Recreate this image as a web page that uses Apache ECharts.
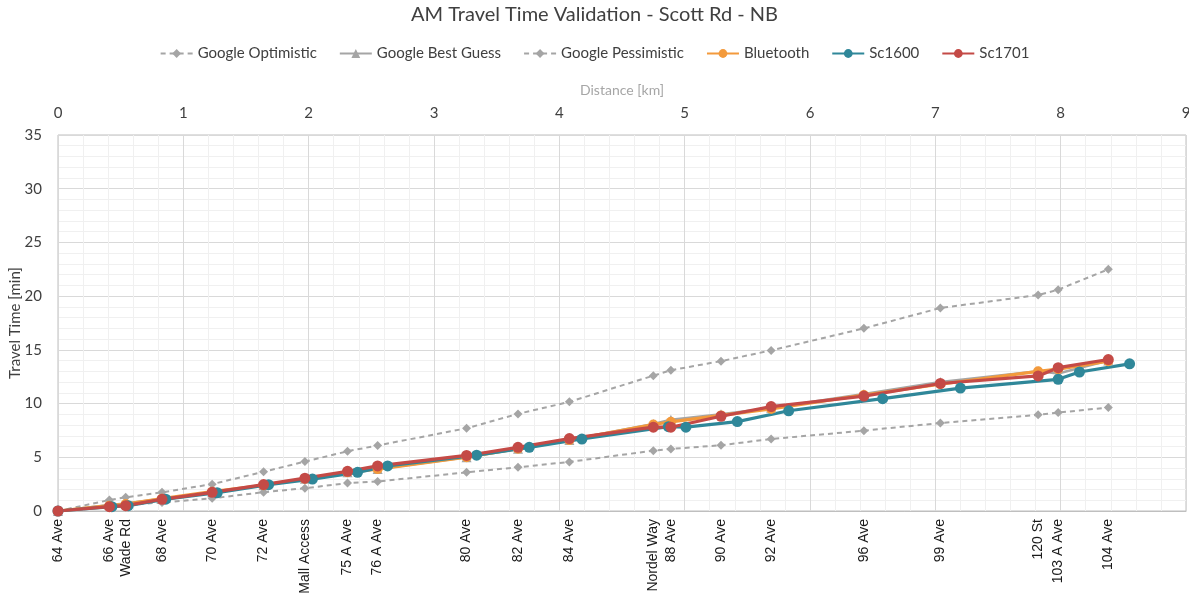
<!DOCTYPE html>
<html>
<head>
<meta charset="utf-8">
<script src="https://cdn.jsdelivr.net/npm/echarts@6/dist/echarts.min.js"></script>
<style>html,body{margin:0;padding:0;background:#fff;}#c{width:1189px;height:605px;}</style>
</head>
<body>
<div id="c"></div>
<script>
// Intersections and their distances [km]
const intersections = ['64 Ave','66 Ave','Wade Rd','68 Ave','70 Ave','72 Ave','Mall Access','75 A Ave','76 A Ave','80 Ave','82 Ave','84 Ave','Nordel Way','88 Ave','90 Ave','92 Ave','96 Ave','99 Ave','120 St','103 A Ave','104 Ave'];
const distances = [0, 0.41, 0.54, 0.83, 1.23, 1.64, 1.97, 2.31, 2.55, 3.26, 3.67, 4.08, 4.75, 4.89, 5.29, 5.69, 6.43, 7.04, 7.82, 7.98, 8.38];

// Travel times [min] at intersections
const googleOptimistic = [0, 0.45, 0.6, 0.78, 1.18, 1.75, 2.12, 2.6, 2.75, 3.6, 4.07, 4.57, 5.62, 5.78, 6.12, 6.7, 7.48, 8.19, 8.95, 9.16, 9.63];
const googleBestGuess = [0, 0.55, 0.7, 1.15, 1.75, 2.4, 3.0, 3.6, 3.9, 5.0, 5.8, 6.6, 8.1, 8.5, 9.0, 9.6, 10.9, 12.0, 13.0, 12.8, 14.0];
const googlePessimistic = [0, 1.02, 1.27, 1.74, 2.5, 3.65, 4.6, 5.56, 6.1, 7.7, 9.04, 10.16, 12.6, 13.1, 13.95, 14.95, 17.0, 18.9, 20.1, 20.6, 22.5];
const bluetooth = [0, 0.5, 0.65, 1.15, 1.8, 2.4, 3.0, 3.6, 3.9, 5.0, 5.8, 6.6, 8.05, 8.3, 8.9, 9.5, 10.8, 11.8, 13.0, 13.2, 13.95];
const sc1701 = [0, 0.4, 0.5, 1.09, 1.74, 2.46, 3.06, 3.69, 4.2, 5.17, 5.93, 6.74, 7.8, 7.8, 8.82, 9.72, 10.7, 11.87, 12.57, 13.34, 14.1];

// Sc1600 has its own distances
const sc1600Dist = [0, 0.43, 0.56, 0.86, 1.27, 1.68, 2.03, 2.39, 2.63, 3.34, 3.76, 4.18, 4.87, 5.01, 5.42, 5.83, 6.58, 7.2, 7.98, 8.15, 8.55];
const sc1600 = [0, 0.4, 0.5, 1.1, 1.7, 2.45, 2.97, 3.6, 4.2, 5.2, 5.93, 6.7, 7.85, 7.8, 8.32, 9.33, 10.46, 11.44, 12.26, 12.94, 13.7];

const pair = (xs, ys) => xs.map((x, i) => [x, ys[i]]);

const chart = echarts.init(document.getElementById('c'));
const grey = '#A5A5A5';
const baseFont = 'Lato, "Open Sans", sans-serif';

function lineSeries(name, xs, ys, color, symbol, size, width, dashed) {
  return {
    name, type: 'line', xAxisIndex: 0, yAxisIndex: 0,
    data: pair(xs, ys),
    symbol, symbolSize: size, showSymbol: true,
    lineStyle: { color, width, type: dashed ? [5, 4] : 'solid' },
    itemStyle: { color },
    emphasis: { disabled: true },
    animation: false
  };
}

chart.setOption({
  animation: false,
  backgroundColor: '#fff',
  title: {
    text: 'AM Travel Time Validation - Scott Rd - NB',
    left: 'center', top: 0,
    textStyle: { fontFamily: baseFont, fontSize: 20, fontWeight: 'normal', color: '#404040' }
  },
  legend: {
    top: 41, left: 'center', itemGap: 22, itemWidth: 32, itemHeight: 11,
    textStyle: { fontFamily: baseFont, fontSize: 15, color: '#404040' },
    data: ['Google Optimistic','Google Best Guess','Google Pessimistic','Bluetooth','Sc1600','Sc1701']
  },
  grid: { left: 58, right: 3, top: 135, bottom: 94, show: true, borderColor: '#BFBFBF', borderWidth: 1, outerBoundsMode: 'none', containLabel: false },
  xAxis: [
    {
      type: 'value', position: 'top', min: 0, max: 9, interval: 1,
      name: 'Distance [km]', nameLocation: 'middle', nameGap: 38,
      nameTextStyle: { fontFamily: baseFont, fontSize: 14, color: '#A6A6A6' },
      axisLine: { show: false }, axisTick: { show: false },
      axisLabel: { fontFamily: baseFont, fontSize: 15, color: '#404040', margin: 14 },
      splitLine: { show: true, lineStyle: { color: '#D9D9D9', width: 1 } },
      minorTick: { show: false, splitNumber: 5 },
      minorSplitLine: { show: true, lineStyle: { color: '#F0F0F0', width: 1 } }
    },
    {
      type: 'value', position: 'bottom', min: 0, max: 9,
      axisLine: { show: true, lineStyle: { color: '#BFBFBF' } }, axisTick: { show: false },
      splitLine: { show: false },
      axisLabel: {
        customValues: distances,
        rotate: 90, margin: 8, fontFamily: '"Liberation Sans", Arial, sans-serif', fontSize: 14, color: '#1a1a1a',
        hideOverlap: false,
        formatter: (v) => {
          const i = distances.findIndex(d => Math.abs(d - v) < 1e-6);
          return i >= 0 ? intersections[i] : '';
        }
      }
    }
  ],
  yAxis: {
    type: 'value', min: 0, max: 35, interval: 5,
    name: 'Travel Time [min]', nameLocation: 'middle', nameGap: 35, nameMoveOverlap: false,
    nameTextStyle: { fontFamily: baseFont, fontSize: 15, color: '#404040' },
    axisLine: { show: false }, axisTick: { show: false },
    axisLabel: { fontFamily: baseFont, fontSize: 15, color: '#404040', margin: 16 },
    splitLine: { show: true, lineStyle: { color: '#D9D9D9', width: 1 } },
    minorTick: { show: false, splitNumber: 5 },
    minorSplitLine: { show: true, lineStyle: { color: '#F0F0F0', width: 1 } }
  },
  series: [
    lineSeries('Google Optimistic', distances, googleOptimistic, grey, 'diamond', 9, 2, true),
    lineSeries('Google Best Guess', distances, googleBestGuess, grey, 'triangle', 10, 2.5, false),
    lineSeries('Google Pessimistic', distances, googlePessimistic, grey, 'diamond', 9, 2, true),
    lineSeries('Bluetooth', distances, bluetooth, '#F39A3C', 'circle', 10, 3.2, false),
    lineSeries('Sc1600', sc1600Dist, sc1600, '#2F8799', 'circle', 11, 3.2, false),
    lineSeries('Sc1701', distances, sc1701, '#C44A46', 'circle', 11, 3.2, false)
  ]
});
</script>
</body>
</html>
